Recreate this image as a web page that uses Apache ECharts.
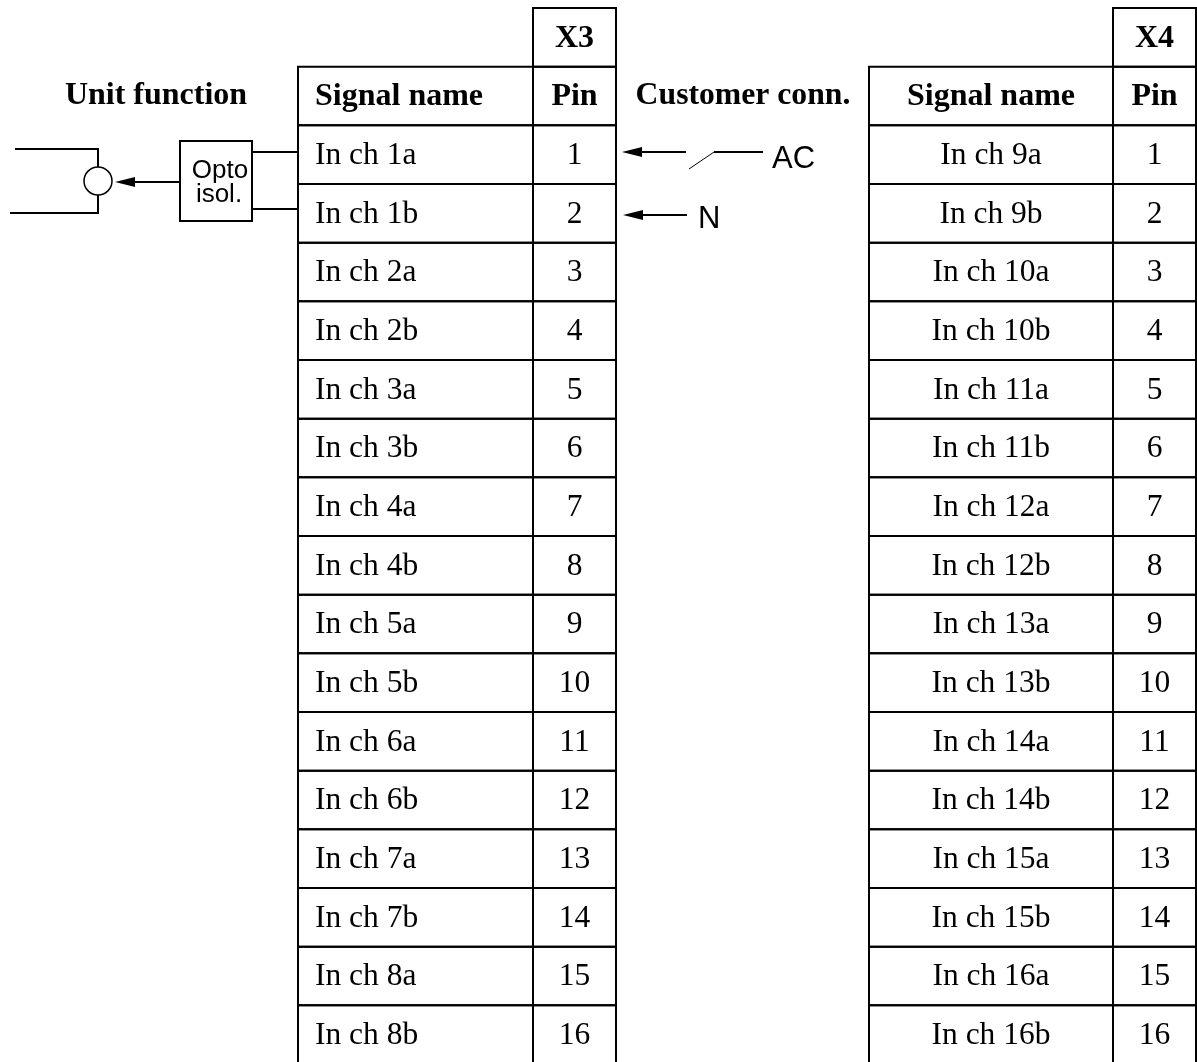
<!DOCTYPE html>
<html>
<head>
<meta charset="utf-8">
<style>html,body{margin:0;padding:0;background:#fff;overflow:hidden;height:1062px}#main{width:1197px;height:1072px}</style>
<script src="https://cdn.jsdelivr.net/npm/echarts@6/dist/echarts.min.js"></script>
</head>
<body>
<div id="main"></div>
<script>
const rowNames = ['conn', 'head', 'r1', 'r2', 'r3', 'r4', 'r5', 'r6', 'r7', 'r8', 'r9', 'r10', 'r11', 'r12', 'r13', 'r14', 'r15', 'r16'];
const pins = ['1', '2', '3', '4', '5', '6', '7', '8', '9', '10', '11', '12', '13', '14', '15', '16'];
const signalsX3 = ['In ch 1a', 'In ch 1b', 'In ch 2a', 'In ch 2b', 'In ch 3a', 'In ch 3b', 'In ch 4a', 'In ch 4b',
  'In ch 5a', 'In ch 5b', 'In ch 6a', 'In ch 6b', 'In ch 7a', 'In ch 7b', 'In ch 8a', 'In ch 8b'];
const signalsX4 = ['In ch 9a', 'In ch 9b', 'In ch 10a', 'In ch 10b', 'In ch 11a', 'In ch 11b', 'In ch 12a', 'In ch 12b',
  'In ch 13a', 'In ch 13b', 'In ch 14a', 'In ch 14b', 'In ch 15a', 'In ch 15b', 'In ch 16a', 'In ch 16b'];

const SERIF = '"Liberation Serif","Times New Roman",serif';
const SANS = '"Liberation Sans",Arial,sans-serif';
const FONT_SIZE = 32;
const BODY_FONT_SIZE = 31.5;
const TEXT_DY = 1;

function tableRows(connector, signals) {
  const rows = [['conn', '', connector], ['head', 'Signal name', 'Pin']];
  signals.forEach((s, i) => rows.push([rowNames[i + 2], s, pins[i]]));
  return rows;
}

// one table = signal column + pin column, one data item per row
function tableRender(rows, cols) {
  return (params, api) => {
    const row = rows[params.dataIndex];
    const rowName = row[0];
    const c = api.coord([cols.left, rowName]);
    const mid = api.coord([cols.mid, rowName])[0];
    const right = api.coord([cols.right, rowName])[0];
    const h = api.size([0, 1])[1];
    const top = c[1] - h / 2;
    const bold = rowName === 'conn' || rowName === 'head';
    const children = [];
    const cell = (x, w) => ({
      type: 'rect',
      shape: {x: x, y: top, width: w, height: h},
      style: {fill: 'none', stroke: '#000', lineWidth: 2}
    });
    const label = (text, x, align) => ({
      type: 'text',
      style: {
        text: text, x: x, y: c[1] + TEXT_DY, align: align, verticalAlign: 'middle', fill: '#000',
        font: bold ? 'bold ' + FONT_SIZE + 'px ' + SERIF : BODY_FONT_SIZE + 'px ' + SERIF
      }
    });
    if (rowName !== 'conn') {
      children.push(cell(c[0], mid - c[0]));
      if (cols.signalAlign === 'left') {
        children.push(label(row[1], c[0] + 17, 'left'));
      } else {
        children.push(label(row[1], (c[0] + mid) / 2, 'center'));
      }
    }
    children.push(cell(mid, right - mid));
    children.push(label(row[2], (mid + right) / 2, 'center'));
    return {type: 'group', children: children};
  };
}

const line = (x1, y1, x2, y2, lw) => ({
  type: 'line',
  shape: {x1: x1, y1: y1, x2: x2, y2: y2},
  style: {stroke: '#000', lineWidth: lw || 2, fill: 'none'}
});
const arrow = (tip, y, tail) => ({
  type: 'group',
  children: [
    line(tip + 15, y, tail, y),
    {type: 'polygon', shape: {points: [[tip, y], [tip + 20, y - 5], [tip + 20, y + 5]]}, style: {fill: '#000'}}
  ]
});
const txt = (text, x, y, font, align) => ({
  type: 'text',
  style: {text: text, x: x, y: y, font: font, fill: '#000', align: align || 'left', verticalAlign: 'middle'}
});

const rowsX3 = tableRows('X3', signalsX3);
const rowsX4 = tableRows('X4', signalsX4);

const chart = echarts.init(document.getElementById('main'), null, {renderer: 'canvas'});
chart.setOption({
  animation: false,
  backgroundColor: '#fff',
  grid: {left: 0, top: 8, width: 1197, height: 1056, containLabel: false},
  xAxis: {type: 'value', min: 0, max: 1197, show: false},
  yAxis: {type: 'category', data: rowNames, inverse: true, show: false},
  series: [
    {
      type: 'custom',
      clip: false,
      silent: true,
      renderItem: tableRender(rowsX3, {left: 298, mid: 533, right: 616, signalAlign: 'left'}),
      encode: {y: 0},
      data: rowsX3
    },
    {
      type: 'custom',
      clip: false,
      silent: true,
      renderItem: tableRender(rowsX4, {left: 869, mid: 1113, right: 1196, signalAlign: 'center'}),
      encode: {y: 0},
      data: rowsX4
    }
  ],
  graphic: {
    elements: [
      txt('Unit function', 156, 96, 'bold ' + FONT_SIZE + 'px ' + SERIF, 'center'),
      txt('Customer conn.', 743, 96, 'bold 31.7px ' + SERIF, 'center'),
      // unit function schematic
      line(15, 149, 98, 149),
      line(98, 148, 98, 168),
      line(10, 213, 98, 213),
      line(98, 195, 98, 214),
      {type: 'circle', shape: {cx: 98, cy: 181, r: 14}, style: {fill: '#fff', stroke: '#000', lineWidth: 1.5}},
      arrow(115, 182, 180),
      {type: 'rect', shape: {x: 180, y: 141, width: 72, height: 80}, style: {fill: '#fff', stroke: '#000', lineWidth: 2}},
      line(252, 152, 297, 152),
      line(252, 209, 298, 209),
      txt('Opto', 220, 171, '26px ' + SANS, 'center'),
      txt('isol.', 219, 195, '26px ' + SANS, 'center'),
      // customer connection
      arrow(622, 152, 686),
      line(689, 169, 714, 152, 1),
      line(714, 152, 763, 152),
      txt('AC', 772, 159, '31px ' + SANS),
      arrow(623, 215, 687),
      txt('N', 698, 219, '31px ' + SANS)
    ]
  }
});
</script>
</body>
</html>
